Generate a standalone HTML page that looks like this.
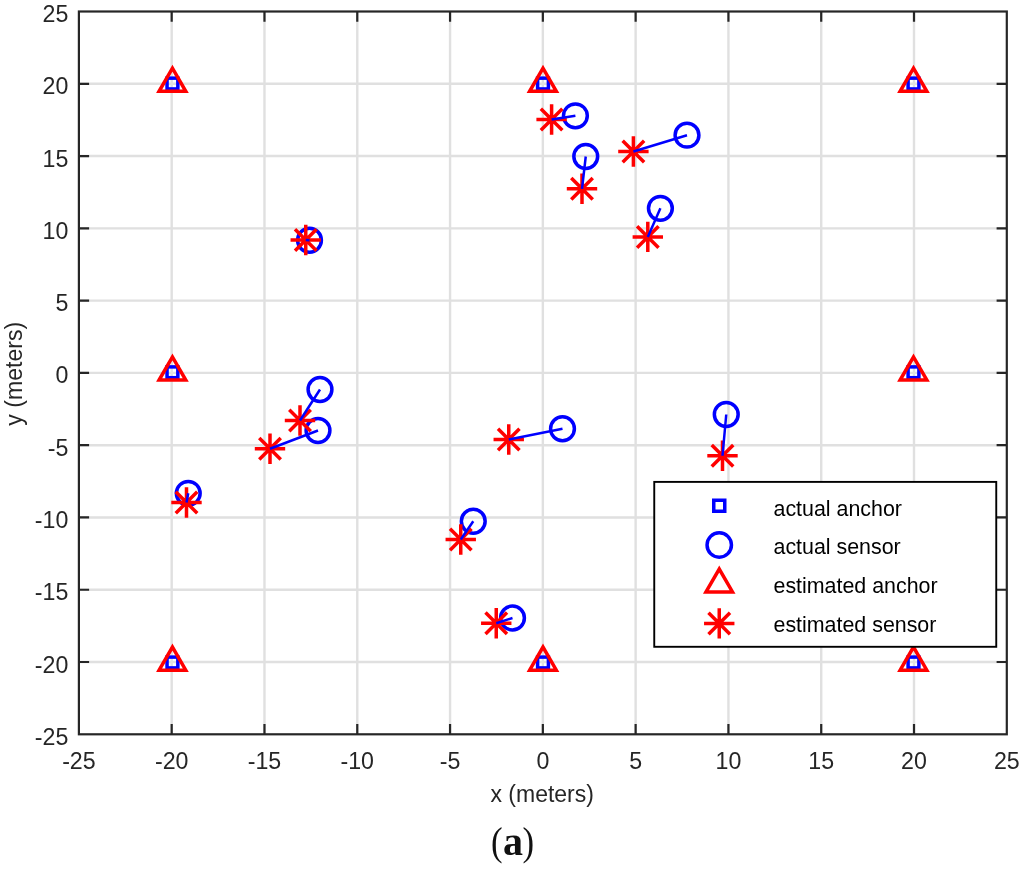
<!DOCTYPE html>
<html><head><meta charset="utf-8"><title>figure</title><style>html,body{margin:0;padding:0;background:#fff}svg{display:block}</style></head><body>
<svg width="1024" height="869" viewBox="0 0 1024 869">
<rect width="1024" height="869" fill="#fff"/>
<path d="M171.69 11.5V734.3M78.9 662.02H1006.8M264.48 11.5V734.3M78.9 589.74H1006.8M357.27 11.5V734.3M78.9 517.46H1006.8M450.06 11.5V734.3M78.9 445.18H1006.8M542.85 11.5V734.3M78.9 372.90H1006.8M635.64 11.5V734.3M78.9 300.62H1006.8M728.43 11.5V734.3M78.9 228.34H1006.8M821.22 11.5V734.3M78.9 156.06H1006.8M914.01 11.5V734.3M78.9 83.78H1006.8" stroke="#e0e0e0" stroke-width="2.4" fill="none"/>
<path d="M171.69 734.3v-10.2M171.69 11.5v10.2M78.9 662.02h10.2M1006.8 662.02h-10.2M264.48 734.3v-10.2M264.48 11.5v10.2M78.9 589.74h10.2M1006.8 589.74h-10.2M357.27 734.3v-10.2M357.27 11.5v10.2M78.9 517.46h10.2M1006.8 517.46h-10.2M450.06 734.3v-10.2M450.06 11.5v10.2M78.9 445.18h10.2M1006.8 445.18h-10.2M542.85 734.3v-10.2M542.85 11.5v10.2M78.9 372.90h10.2M1006.8 372.90h-10.2M635.64 734.3v-10.2M635.64 11.5v10.2M78.9 300.62h10.2M1006.8 300.62h-10.2M728.43 734.3v-10.2M728.43 11.5v10.2M78.9 228.34h10.2M1006.8 228.34h-10.2M821.22 734.3v-10.2M821.22 11.5v10.2M78.9 156.06h10.2M1006.8 156.06h-10.2M914.01 734.3v-10.2M914.01 11.5v10.2M78.9 83.78h10.2M1006.8 83.78h-10.2" stroke="#262626" stroke-width="2.2" fill="none"/>
<rect x="78.9" y="11.5" width="927.9" height="722.8" stroke="#262626" stroke-width="2.2" fill="none"/>
<g font-family="Liberation Sans, Arial, Helvetica, sans-serif" font-size="23.2" fill="#262626">
<text x="78.90" y="769.2" text-anchor="middle">-25</text>
<text x="68.3" y="744.80" text-anchor="end">-25</text>
<text x="171.69" y="769.2" text-anchor="middle">-20</text>
<text x="68.3" y="672.52" text-anchor="end">-20</text>
<text x="264.48" y="769.2" text-anchor="middle">-15</text>
<text x="68.3" y="600.24" text-anchor="end">-15</text>
<text x="357.27" y="769.2" text-anchor="middle">-10</text>
<text x="68.3" y="527.96" text-anchor="end">-10</text>
<text x="450.06" y="769.2" text-anchor="middle">-5</text>
<text x="68.3" y="455.68" text-anchor="end">-5</text>
<text x="542.85" y="769.2" text-anchor="middle">0</text>
<text x="68.3" y="383.40" text-anchor="end">0</text>
<text x="635.64" y="769.2" text-anchor="middle">5</text>
<text x="68.3" y="311.12" text-anchor="end">5</text>
<text x="728.43" y="769.2" text-anchor="middle">10</text>
<text x="68.3" y="238.84" text-anchor="end">10</text>
<text x="821.22" y="769.2" text-anchor="middle">15</text>
<text x="68.3" y="166.56" text-anchor="end">15</text>
<text x="914.01" y="769.2" text-anchor="middle">20</text>
<text x="68.3" y="94.28" text-anchor="end">20</text>
<text x="1006.80" y="769.2" text-anchor="middle">25</text>
<text x="68.3" y="22.00" text-anchor="end">25</text>
</g>
<text x="542.2" y="802" text-anchor="middle" font-family="Liberation Sans, Arial, Helvetica, sans-serif" font-size="23.0" fill="#262626">x (meters)</text>
<text transform="translate(22.4 373.8) rotate(-90)" text-anchor="middle" font-family="Liberation Sans, Arial, Helvetica, sans-serif" font-size="23.1" fill="#262626">y (meters)</text>
<g fill="none" stroke="#0000ff" stroke-width="3.5">
<rect x="167.05" y="78.15" width="10.8" height="10.8"/>
<rect x="537.60" y="78.15" width="10.8" height="10.8"/>
<rect x="908.10" y="78.15" width="10.8" height="10.8"/>
<rect x="167.05" y="366.90" width="10.8" height="10.8"/>
<rect x="908.10" y="366.90" width="10.8" height="10.8"/>
<rect x="167.05" y="657.10" width="10.8" height="10.8"/>
<rect x="537.60" y="657.10" width="10.8" height="10.8"/>
<rect x="908.10" y="657.10" width="10.8" height="10.8"/>
<circle cx="575.40" cy="115.80" r="11.9"/>
<circle cx="585.75" cy="156.50" r="11.9"/>
<circle cx="687.00" cy="135.20" r="11.9"/>
<circle cx="660.40" cy="208.30" r="11.9"/>
<circle cx="309.50" cy="240.25" r="11.9"/>
<circle cx="320.00" cy="389.50" r="11.9"/>
<circle cx="318.00" cy="430.50" r="11.9"/>
<circle cx="188.25" cy="493.30" r="11.9"/>
<circle cx="562.50" cy="428.75" r="11.9"/>
<circle cx="473.25" cy="521.25" r="11.9"/>
<circle cx="512.50" cy="618.00" r="11.9"/>
<circle cx="726.25" cy="414.50" r="11.9"/>
</g>
<g fill="none" stroke="#ff0000" stroke-width="3.5">
<path d="M159.11 91.25L172.45 68.15L185.79 91.25Z"/>
<path d="M529.66 91.25L543.00 68.15L556.34 91.25Z"/>
<path d="M900.16 91.25L913.50 68.15L926.84 91.25Z"/>
<path d="M159.11 380.00L172.45 356.90L185.79 380.00Z"/>
<path d="M900.16 380.00L913.50 356.90L926.84 380.00Z"/>
<path d="M159.11 670.20L172.45 647.10L185.79 670.20Z"/>
<path d="M529.66 670.20L543.00 647.10L556.34 670.20Z"/>
<path d="M900.16 670.20L913.50 647.10L926.84 670.20Z"/>
<path d="M536.40 119.50H566.80M551.60 104.30V134.70M540.85 108.75L562.35 130.25M540.85 130.25L562.35 108.75"/>
<path d="M566.80 188.80H597.20M582.00 173.60V204.00M571.25 178.05L592.75 199.55M571.25 199.55L592.75 178.05"/>
<path d="M618.20 151.50H648.60M633.40 136.30V166.70M622.65 140.75L644.15 162.25M622.65 162.25L644.15 140.75"/>
<path d="M632.60 236.90H663.00M647.80 221.70V252.10M637.05 226.15L658.55 247.65M637.05 247.65L658.55 226.15"/>
<path d="M290.55 240.00H320.95M305.75 224.80V255.20M295.00 229.25L316.50 250.75M295.00 250.75L316.50 229.25"/>
<path d="M284.80 420.50H315.20M300.00 405.30V435.70M289.25 409.75L310.75 431.25M289.25 431.25L310.75 409.75"/>
<path d="M254.80 448.75H285.20M270.00 433.55V463.95M259.25 438.00L280.75 459.50M259.25 459.50L280.75 438.00"/>
<path d="M171.30 502.50H201.70M186.50 487.30V517.70M175.75 491.75L197.25 513.25M175.75 513.25L197.25 491.75"/>
<path d="M493.55 439.50H523.95M508.75 424.30V454.70M498.00 428.75L519.50 450.25M498.00 450.25L519.50 428.75"/>
<path d="M445.55 539.50H475.95M460.75 524.30V554.70M450.00 528.75L471.50 550.25M450.00 550.25L471.50 528.75"/>
<path d="M481.05 623.25H511.45M496.25 608.05V638.45M485.50 612.50L507.00 634.00M485.50 634.00L507.00 612.50"/>
<path d="M707.30 455.75H737.70M722.50 440.55V470.95M711.75 445.00L733.25 466.50M711.75 466.50L733.25 445.00"/>
</g>
<path d="M551.60 119.50L575.40 115.80M582.00 188.80L585.75 156.50M633.40 151.50L687.00 135.20M647.80 236.90L660.40 208.30M305.75 240.00L309.50 240.25M300.00 420.50L320.00 389.50M270.00 448.75L318.00 430.50M186.50 502.50L188.25 493.30M508.75 439.50L562.50 428.75M460.75 539.50L473.25 521.25M496.25 623.25L512.50 618.00M722.50 455.75L726.25 414.50" stroke="#0000ff" stroke-width="2.5" fill="none"/>
<rect x="654.25" y="481.9" width="342.0" height="164.89999999999998" fill="#fff" stroke="#000" stroke-width="1.9"/>
<g fill="none" stroke="#0000ff" stroke-width="3.5"><rect x="713.75" y="500.25" width="11.0" height="11.0"/><circle cx="719.25" cy="545.00" r="12.2"/></g>
<g fill="none" stroke="#ff0000" stroke-width="3.5"><path d="M706.00 591.95L719.25 569.00L732.50 591.95Z"/><path d="M704.05 623.40H734.45M719.25 608.20V638.60M708.50 612.65L730.00 634.15M708.50 634.15L730.00 612.65"/></g>
<g font-family="Liberation Sans, Arial, Helvetica, sans-serif" font-size="21.4" fill="#000">
<text x="773.5" y="515.70">actual anchor</text>
<text x="773.5" y="554.40">actual sensor</text>
<text x="773.5" y="593.10">estimated anchor</text>
<text x="773.5" y="631.80">estimated sensor</text>
</g>
<text transform="translate(502.6 854.5) scale(0.87 1)" text-anchor="end" font-family="Liberation Serif, Times New Roman, serif" font-size="40" fill="#111">(</text>
<text x="512.9" y="854.5" text-anchor="middle" font-weight="bold" font-family="Liberation Serif, Times New Roman, serif" font-size="40" fill="#111">a</text>
<text transform="translate(522.4 854.5) scale(0.87 1)" font-family="Liberation Serif, Times New Roman, serif" font-size="40" fill="#111">)</text>
</svg>
</body></html>
